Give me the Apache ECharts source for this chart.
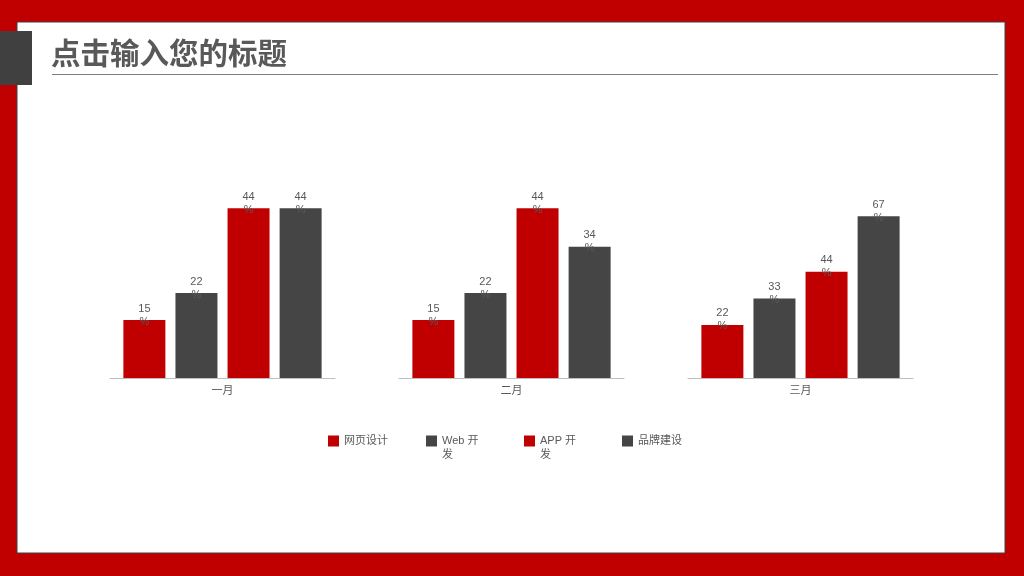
<!DOCTYPE html>
<html>
<head>
<meta charset="utf-8">
<title>点击输入您的标题</title>
<script src="https://cdn.jsdelivr.net/npm/echarts@6/dist/echarts.min.js"></script>
<style>
  html, body { margin: 0; padding: 0; }
  #chart { width: 1024px; height: 576px; }
</style>
</head>
<body>
<div id="chart"></div>
<script>
const months = ['一月', '二月', '三月'];
const seriesNames = ['网页设计', 'Web 开发', 'APP 开发', '品牌建设'];
const webDesign = [15, 15, 22];
const webDev = [22, 22, 33];
const appDev = [44, 44, 44];
const brand = [44, 34, 67];
const panelMax = [50, 50, 80];

const values = [webDesign, webDev, appDev, brand];
const colors = ['#C00000', '#454545', '#C00000', '#454545'];
const font = '"Liberation Sans", "Noto Sans CJK SC", sans-serif';

const chart = echarts.init(document.getElementById('chart'));

const grids = [];
const xAxes = [];
const yAxes = [];
const series = [];

months.forEach((month, i) => {
  grids.push({ left: 110 + i * 289, top: 185, width: 225, height: 193 });
  xAxes.push({
    type: 'category',
    gridIndex: i,
    data: [month],
    axisTick: { show: false },
    axisLine: { lineStyle: { color: '#BFBFBF' } },
    axisLabel: { color: '#595959', fontSize: 11, fontFamily: font, margin: 7 }
  });
  yAxes.push({
    type: 'value',
    gridIndex: i,
    min: 0,
    max: panelMax[i],
    show: false,
    splitLine: { show: false }
  });
  values.forEach((vals, s) => {
    series.push({
      type: 'bar',
      name: seriesNames[s],
      xAxisIndex: i,
      yAxisIndex: i,
      data: [vals[i]],
      barWidth: 42,
      barGap: '24%',
      itemStyle: { color: colors[s] },
      label: {
        show: true,
        position: 'top',
        distance: -8,
        formatter: '{c}\n%',
        color: '#595959',
        fontSize: 11,
        lineHeight: 13,
        fontFamily: font
      }
    });
  });
});

const option = {
  backgroundColor: '#C00000',
  animation: false,
  title: {
    text: '点击输入您的标题',
    left: 46,
    top: 33,
    textStyle: {
      color: '#595959',
      fontSize: 29.5,
      fontWeight: 'bold',
      fontFamily: '"Noto Sans CJK SC", sans-serif'
    }
  },
  graphic: [
    {
      type: 'rect',
      z: -10,
      shape: { x: 17, y: 22, width: 988, height: 531 },
      style: { fill: '#ffffff', stroke: '#404040', lineWidth: 1 }
    },
    {
      type: 'rect',
      z: -5,
      shape: { x: 0, y: 31, width: 32, height: 54 },
      style: { fill: '#404040' }
    },
    {
      type: 'line',
      z: -5,
      shape: { x1: 52, y1: 74.5, x2: 998, y2: 74.5 },
      style: { stroke: '#7F7F7F', lineWidth: 1 }
    }
  ],
  legend: {
    data: seriesNames,
    left: 328,
    top: 420,
    padding: 0,
    itemWidth: 11,
    itemHeight: 11,
    itemGap: 37,
    icon: 'rect',
    // wrapping names get an empty first line so their first line sits beside the icon
    formatter: name => (name.indexOf(' ') > 0 ? '\n' + name : name),
    textStyle: {
      color: '#595959',
      fontSize: 11,
      fontFamily: font,
      width: 45,
      overflow: 'break',
      lineHeight: 14
    }
  },
  grid: grids,
  xAxis: xAxes,
  yAxis: yAxes,
  series: series
};

chart.setOption(option);
</script>
</body>
</html>
